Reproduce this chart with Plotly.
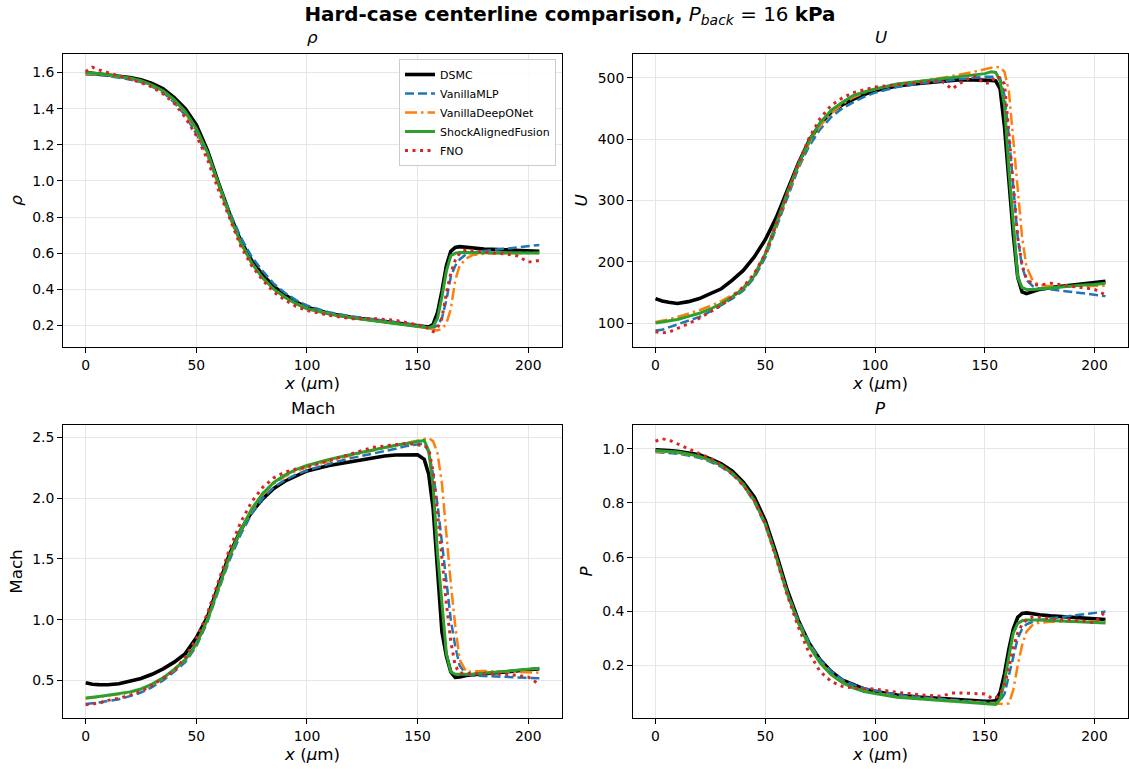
import plotly.graph_objects as go

# ---------------- data ----------------
X_UM = [0, 3, 6, 10, 15, 20, 25, 30, 35, 40, 45, 50, 55, 60, 65, 70, 75, 80, 85, 90,
        95, 100, 110, 120, 130, 135, 140, 145, 150, 153, 155, 157, 159, 161, 163,
        165, 167, 169, 172, 175, 180, 190, 195, 200, 205]

MODELS = ["DSMC", "VanillaMLP", "VanillaDeepONet", "ShockAlignedFusion", "FNO"]

RHO_DSMC = [1.600, 1.597, 1.592, 1.587, 1.580, 1.572, 1.560, 1.540, 1.510, 1.462,
            1.400, 1.310, 1.170, 0.990, 0.820, 0.670, 0.560, 0.480, 0.415, 0.370,
            0.330, 0.300, 0.265, 0.245, 0.230, 0.222, 0.215, 0.208, 0.200, 0.193,
            0.190, 0.205, 0.270, 0.390, 0.530, 0.610, 0.632, 0.636, 0.632, 0.627,
            0.623, 0.618, 0.615, 0.612, 0.610]
RHO_MLP = [1.590, 1.590, 1.587, 1.582, 1.572, 1.562, 1.547, 1.522, 1.490, 1.435,
           1.362, 1.262, 1.140, 0.980, 0.830, 0.690, 0.580, 0.500, 0.430, 0.380,
           0.340, 0.310, 0.272, 0.250, 0.235, 0.228, 0.220, 0.210, 0.200, 0.192,
           0.188, 0.186, 0.200, 0.240, 0.340, 0.470, 0.530, 0.565, 0.595, 0.603,
           0.612, 0.625, 0.633, 0.640, 0.645]
RHO_DON = [1.595, 1.594, 1.590, 1.585, 1.578, 1.568, 1.553, 1.528, 1.497, 1.447,
           1.377, 1.277, 1.147, 0.968, 0.800, 0.652, 0.543, 0.463, 0.402, 0.357,
           0.322, 0.294, 0.264, 0.243, 0.228, 0.220, 0.212, 0.204, 0.196, 0.190,
           0.184, 0.176, 0.172, 0.180, 0.210, 0.290, 0.450, 0.530, 0.570, 0.590,
           0.597, 0.600, 0.600, 0.600, 0.600]
RHO_SAF = [1.600, 1.598, 1.594, 1.588, 1.580, 1.570, 1.555, 1.530, 1.500, 1.450,
           1.385, 1.290, 1.160, 0.980, 0.810, 0.660, 0.545, 0.462, 0.400, 0.355,
           0.320, 0.292, 0.262, 0.242, 0.226, 0.218, 0.210, 0.202, 0.195, 0.188,
           0.186, 0.195, 0.240, 0.360, 0.500, 0.585, 0.600, 0.603, 0.603, 0.603,
           0.603, 0.602, 0.601, 0.600, 0.600]
RHO_FNO = [1.605, 1.630, 1.615, 1.600, 1.585, 1.565, 1.545, 1.520, 1.482, 1.430,
           1.352, 1.250, 1.120, 0.950, 0.790, 0.640, 0.530, 0.450, 0.385, 0.340,
           0.305, 0.282, 0.255, 0.237, 0.238, 0.235, 0.228, 0.215, 0.205, 0.195,
           0.180, 0.165, 0.185, 0.240, 0.380, 0.490, 0.560, 0.600, 0.620, 0.615,
           0.605, 0.595, 0.585, 0.550, 0.560]

U_DSMC = [140, 136, 134, 132, 135, 140, 148, 156, 170, 186, 208, 236, 272, 318, 360,
          398, 425, 444, 456, 465, 473, 479, 487, 491, 495, 496, 497, 497, 497, 496,
          495, 482, 420, 330, 245, 175, 151, 148, 151, 155, 158, 162, 164, 166, 168]
U_MLP = [88, 89, 93, 98, 104, 110, 119, 129, 140, 153, 174, 207, 255, 305, 352,
         389, 416, 436, 450, 460, 469, 476, 485, 491, 495, 497, 499, 501, 502, 502,
         502, 500, 471, 405, 315, 240, 192, 170, 160, 156, 155, 151, 149, 147, 144]
U_DON = [102, 104, 106, 110, 115, 121, 128, 136, 146, 158, 180, 211, 259, 309, 355,
         394, 422, 442, 457, 468, 476, 482, 489, 494, 500, 503, 506, 510, 514, 516,
         518, 517, 510, 478, 400, 315, 240, 192, 168, 162, 160, 160, 160, 160, 161]
U_SAF = [100, 102, 104, 106, 111, 116, 123, 132, 143, 156, 177, 213, 262, 312, 358,
         397, 427, 447, 460, 471, 477, 482, 490, 494, 499, 501, 503, 505, 507, 510,
         509, 495, 455, 350, 255, 175, 158, 155, 155, 156, 158, 161, 162, 163, 165]
U_FNO = [86, 84, 85, 91, 99, 108, 118, 129, 143, 159, 181, 213, 262, 312, 360,
         402, 434, 455, 467, 476, 481, 485, 489, 492, 496, 482, 494, 503, 491, 493,
         503, 500, 490, 410, 320, 240, 195, 172, 163, 162, 165, 160, 157, 155, 146]

MACH_DSMC = [0.480, 0.468, 0.465, 0.464, 0.472, 0.490, 0.515, 0.550, 0.595, 0.650,
             0.720, 0.850, 1.020, 1.280, 1.540, 1.735, 1.885, 1.995, 2.080, 2.140,
             2.185, 2.225, 2.270, 2.300, 2.335, 2.348, 2.356, 2.360, 2.358, 2.320,
             2.200, 1.920, 1.360, 0.900, 0.700, 0.570, 0.525, 0.528, 0.540, 0.548,
             0.555, 0.570, 0.580, 0.588, 0.595]
MACH_MLP = [0.305, 0.310, 0.318, 0.330, 0.345, 0.370, 0.400, 0.445, 0.500, 0.570,
            0.650, 0.780, 0.980, 1.240, 1.490, 1.700, 1.870, 2.000, 2.090, 2.150,
            2.195, 2.228, 2.283, 2.330, 2.366, 2.385, 2.407, 2.430, 2.445, 2.450,
            2.380, 2.200, 1.950, 1.620, 1.280, 1.000, 0.780, 0.620, 0.550, 0.540,
            0.536, 0.527, 0.524, 0.520, 0.517]
MACH_DON = [0.350, 0.356, 0.363, 0.373, 0.386, 0.400, 0.425, 0.465, 0.515, 0.585,
            0.665, 0.795, 0.995, 1.255, 1.515, 1.730, 1.900, 2.030, 2.120, 2.180,
            2.225, 2.256, 2.305, 2.352, 2.393, 2.413, 2.434, 2.455, 2.475, 2.490,
            2.495, 2.470, 2.370, 2.120, 1.700, 1.300, 0.950, 0.670, 0.570, 0.575,
            0.577, 0.571, 0.568, 0.566, 0.563]
MACH_SAF = [0.355, 0.360, 0.368, 0.378, 0.390, 0.405, 0.430, 0.470, 0.520, 0.590,
            0.670, 0.800, 1.000, 1.260, 1.520, 1.735, 1.910, 2.040, 2.130, 2.190,
            2.235, 2.270, 2.320, 2.360, 2.400, 2.420, 2.437, 2.450, 2.462, 2.475,
            2.390, 2.100, 1.550, 1.100, 0.720, 0.570, 0.550, 0.550, 0.550, 0.552,
            0.558, 0.575, 0.585, 0.593, 0.600]
MACH_FNO = [0.300, 0.305, 0.312, 0.335, 0.352, 0.378, 0.410, 0.460, 0.520, 0.580,
            0.690, 0.840, 1.050, 1.320, 1.580, 1.800, 1.970, 2.090, 2.168, 2.215,
            2.240, 2.256, 2.310, 2.366, 2.420, 2.430, 2.442, 2.453, 2.440, 2.430,
            2.410, 2.220, 1.880, 1.500, 1.130, 0.820, 0.620, 0.560, 0.555, 0.555,
            0.555, 0.550, 0.540, 0.527, 0.467]

P_DSMC = [0.996, 0.996, 0.994, 0.991, 0.985, 0.978, 0.963, 0.945, 0.918, 0.877,
          0.822, 0.736, 0.613, 0.479, 0.368, 0.282, 0.221, 0.178, 0.147, 0.129,
          0.113, 0.104, 0.091, 0.083, 0.077, 0.074, 0.071, 0.069, 0.068, 0.068,
          0.070, 0.100, 0.170, 0.260, 0.335, 0.378, 0.392, 0.394, 0.390, 0.387,
          0.383, 0.378, 0.375, 0.372, 0.370]
P_MLP = [0.988, 0.987, 0.985, 0.982, 0.975, 0.967, 0.952, 0.933, 0.905, 0.865,
         0.804, 0.718, 0.601, 0.472, 0.368, 0.285, 0.221, 0.178, 0.148, 0.129,
         0.116, 0.108, 0.092, 0.083, 0.076, 0.073, 0.070, 0.067, 0.064, 0.062,
         0.062, 0.070, 0.095, 0.160, 0.235, 0.300, 0.335, 0.352, 0.362, 0.368,
         0.374, 0.383, 0.388, 0.393, 0.399]
P_DON = [0.990, 0.990, 0.988, 0.985, 0.979, 0.970, 0.956, 0.937, 0.908, 0.868,
         0.808, 0.722, 0.600, 0.467, 0.360, 0.275, 0.212, 0.169, 0.139, 0.119,
         0.106, 0.098, 0.085, 0.078, 0.072, 0.069, 0.066, 0.064, 0.061, 0.059,
         0.058, 0.057, 0.057, 0.060, 0.110, 0.200, 0.275, 0.325, 0.352, 0.358,
         0.361, 0.361, 0.361, 0.361, 0.361]
P_SAF = [0.994, 0.993, 0.991, 0.988, 0.981, 0.972, 0.958, 0.939, 0.910, 0.869,
         0.810, 0.724, 0.601, 0.466, 0.358, 0.272, 0.209, 0.166, 0.137, 0.117,
         0.104, 0.096, 0.083, 0.076, 0.071, 0.068, 0.065, 0.062, 0.060, 0.057,
         0.056, 0.075, 0.140, 0.235, 0.320, 0.355, 0.365, 0.368, 0.369, 0.368,
         0.366, 0.363, 0.362, 0.360, 0.357]
P_FNO = [1.028, 1.037, 1.033, 1.018, 1.000, 0.982, 0.966, 0.939, 0.908, 0.865,
         0.810, 0.724, 0.595, 0.460, 0.343, 0.245, 0.178, 0.141, 0.123, 0.117,
         0.115, 0.113, 0.101, 0.092, 0.086, 0.098, 0.098, 0.096, 0.095, 0.080,
         0.080, 0.095, 0.130, 0.190, 0.265, 0.320, 0.352, 0.368, 0.380, 0.378,
         0.372, 0.368, 0.362, 0.358, 0.400]

X_TICKS = [0, 50, 100, 150, 200]
RHO_TICKS = [0.2, 0.4, 0.6, 0.8, 1.0, 1.2, 1.4, 1.6]
U_TICKS = [100, 200, 300, 400, 500]
MACH_TICKS = [0.5, 1.0, 1.5, 2.0, 2.5]
P_TICKS = [0.2, 0.4, 0.6, 0.8, 1.0]

# ---------------- styling ----------------
STYLES = {
    "DSMC": dict(color="black", width=3.6, dash="solid"),
    "VanillaMLP": dict(color="#1f77b4", width=2.5, dash="9px,4px"),
    "VanillaDeepONet": dict(color="#ff7f0e", width=2.5, dash="12px,4px,2.5px,4px"),
    "ShockAlignedFusion": dict(color="#2ca02c", width=3.0, dash="solid"),
    "FNO": dict(color="#d62728", width=3.0, dash="3px,4.5px"),
}

FONT = "DejaVu Sans"
W, H = 1129, 769
TICK_SIZE = 13.9
LABEL_SIZE = 16.7

panels = [
    ([RHO_DSMC, RHO_MLP, RHO_DON, RHO_SAF, RHO_FNO], "x", "y", "<i>ρ</i>", "<i>ρ</i>",
     [0.08, 1.703], RHO_TICKS, ".1f"),
    ([U_DSMC, U_MLP, U_DON, U_SAF, U_FNO], "x2", "y2", "<i>U</i>", "<i>U</i>",
     [61, 539], U_TICKS, "d"),
    ([MACH_DSMC, MACH_MLP, MACH_DON, MACH_SAF, MACH_FNO], "x3", "y3", "Mach", "Mach",
     [0.19, 2.603], MACH_TICKS, ".1f"),
    ([P_DSMC, P_MLP, P_DON, P_SAF, P_FNO], "x4", "y4", "<i>P</i>", "<i>P</i>",
     [0.006, 1.088], P_TICKS, ".1f"),
]

# pixel boxes of axes (left, right, top, bottom)
boxes = [(63, 562, 54, 347), (633, 1128, 54, 347), (63, 562, 425, 718), (633, 1128, 425, 718)]

fig = go.Figure()
for pi, (series, xa, ya, title, ylab, yr, yt, tf) in enumerate(panels):
    for name, vals in zip(MODELS, series):
        st = STYLES[name]
        fig.add_trace(go.Scatter(
            x=X_UM, y=vals, mode="lines", name=name, xaxis=xa, yaxis=ya,
            line=dict(color=st["color"], width=st["width"], dash=st["dash"]),
            showlegend=(pi == 0), legendgroup=name, hoverinfo="skip"))

layout = dict(
    width=W, height=H, paper_bgcolor="white", plot_bgcolor="white",
    margin=dict(l=0, r=0, t=0, b=0, autoexpand=False),
    font=dict(family=FONT, size=12, color="black"),
    showlegend=True,
    legend=dict(x=556 / W, y=1 - 59 / H, xanchor="right", yanchor="top",
                bgcolor="rgba(255,255,255,0.85)", bordercolor="#cccccc", borderwidth=1,
                font=dict(family=FONT, size=11, color="black"),
                tracegroupgap=0, itemwidth=30),
    annotations=[],
)

axis_common = dict(showline=True, linecolor="black", linewidth=1, mirror=True,
                   ticks="outside", ticklen=5, tickwidth=1, tickcolor="black",
                   showgrid=True, gridcolor="#e6e6e6", gridwidth=0.8, zeroline=False,
                   automargin=False,
                   tickfont=dict(family=FONT, size=TICK_SIZE, color="black"))

for pi, (series, xa, ya, title, ylab, yr, yt, tf) in enumerate(panels):
    l, r, t, b = boxes[pi]
    xk = "xaxis" if xa == "x" else "xaxis" + xa[1:]
    yk = "yaxis" if ya == "y" else "yaxis" + ya[1:]
    layout[xk] = dict(axis_common, domain=[l / W, r / W], anchor=ya,
                      range=[-10.25, 215.25], tickvals=X_TICKS,
                      title=dict(text="<i>x</i> (<i>μ</i>m)", standoff=3,
                                 font=dict(family=FONT, size=LABEL_SIZE)))
    layout[yk] = dict(axis_common, domain=[1 - b / H, 1 - t / H], anchor=xa,
                      range=yr, tickvals=yt, tickformat=tf,
                      title=dict(text=ylab, standoff=5, font=dict(family=FONT, size=LABEL_SIZE)))
    layout["annotations"].append(dict(
        text=title, x=(l + r) / 2 / W, y=1 - (t - 5) / H, xref="paper", yref="paper",
        xanchor="center", yanchor="bottom", showarrow=False,
        font=dict(family=FONT, size=LABEL_SIZE, color="black")))

layout["title"] = dict(
    text="<b>Hard-case centerline comparison,</b> <i>P</i><sub><i>back</i></sub> = 16 <b>kPa</b>",
    x=570 / W, xanchor="center", y=1 - 14 / H, yanchor="middle",
    font=dict(family=FONT, size=19.9, color="black"))

fig.update_layout(**layout)
fig.write_html("out.html", config={"displayModeBar": False},
               post_script="document.body.style.margin='0';document.body.style.overflow='hidden';")
